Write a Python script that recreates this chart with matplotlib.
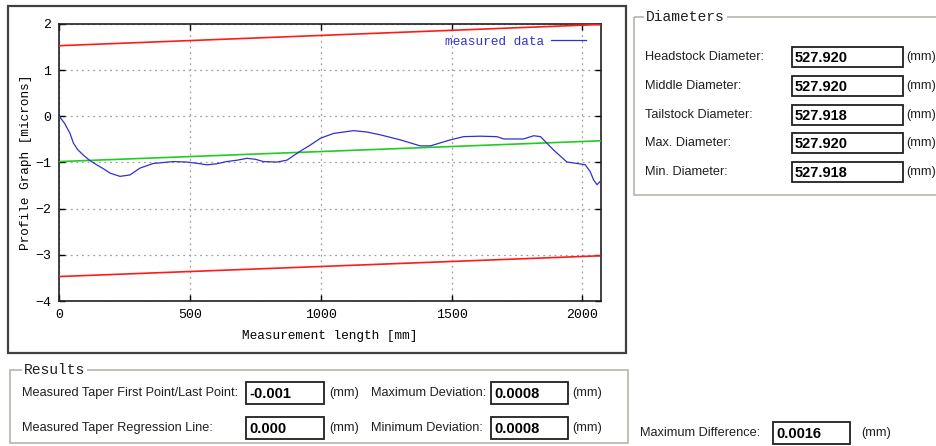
import matplotlib
matplotlib.use("Agg")
import matplotlib.pyplot as plt
from matplotlib.patches import Rectangle

# ---------------- data ----------------
x_meas = [0, 20, 41, 54, 70, 92, 115, 143, 170, 194, 232, 270, 309, 360, 436, 487,
          530, 564, 600, 640, 680, 717, 750, 780, 832, 870, 920, 960, 1000, 1049,
          1125, 1176, 1227, 1304, 1380, 1419, 1495, 1546, 1610, 1673, 1699, 1775,
          1814, 1840, 1890, 1941, 1979, 2011, 2030, 2043, 2056, 2068]
y_meas = [0, -0.15, -0.37, -0.58, -0.72, -0.84, -0.95, -1.05, -1.14, -1.23, -1.30,
          -1.27, -1.12, -1.02, -0.98, -0.99, -1.02, -1.05, -1.03, -0.98, -0.95,
          -0.91, -0.93, -0.98, -0.99, -0.95, -0.76, -0.62, -0.47, -0.37, -0.31,
          -0.34, -0.40, -0.51, -0.64, -0.64, -0.51, -0.44, -0.43, -0.44, -0.49,
          -0.49, -0.42, -0.44, -0.73, -0.99, -1.02, -1.05, -1.20, -1.38, -1.48, -1.41]
x_lines = [0, 2070]
upper_limit = [1.53, 1.99]
lower_limit = [-3.47, -3.02]
regression = [-0.98, -0.53]

x_ticks = [0, 500, 1000, 1500, 2000]
y_ticks = [-4, -3, -2, -1, 0, 1, 2]

diam_labels = ["Headstock Diameter:", "Middle Diameter:", "Tailstock Diameter:",
               "Max. Diameter:", "Min. Diameter:"]
diam_values = ["527.920", "527.920", "527.918", "527.920", "527.918"]

res_labels_left = ["Measured Taper First Point/Last Point:", "Measured Taper Regression Line:"]
res_values_left = ["-0.001", "0.000"]
res_labels_right = ["Maximum Deviation:", "Minimum Deviation:"]
res_values_right = ["0.0008", "0.0008"]
maxdiff_label = "Maximum Difference:"
maxdiff_value = "0.0016"

# ---------------- figure ----------------
W, H = 936, 446
fig = plt.figure(figsize=(W / 100, H / 100), dpi=100)
fig.patch.set_facecolor("white")

bg = fig.add_axes([0, 0, 1, 1])
bg.set_xlim(0, W)
bg.set_ylim(H, 0)
bg.axis("off")

UI = ["Liberation Sans", "DejaVu Sans"]
MONO = ["Liberation Mono", "DejaVu Sans Mono"]
GB = "#b8b4ac"


def groupbox(x0, y0, x1, y1, title, tx):
    bg.add_patch(Rectangle((x0, y0), x1 - x0, y1 - y0, fill=False, ec=GB, lw=1.2))
    bg.text(tx, y0, title, family=MONO, fontsize=10.5, va="center", ha="left",
            color="#202020",
            bbox=dict(boxstyle="square,pad=0.15", fc="white", ec="none"))


def textbox(x0, y0, x1, y1, text):
    bg.add_patch(Rectangle((x0, y0), x1 - x0, y1 - y0, fc="white", ec="#202020", lw=1.3))
    bg.text(x0 + 3, (y0 + y1) / 2 + 1, text, family=["Liberation Sans", "DejaVu Sans"],
            fontsize=10.5, fontweight="bold", va="center", ha="left", color="black")


def label(x, y, text):
    bg.text(x, y, text, family=UI, fontsize=9.2, va="center", ha="left", color="#202020")


# chart outer frame
bg.add_patch(Rectangle((8, 6), 618, 347, fill=False, ec="#404040", lw=1.6))

# Diameters group
groupbox(634, 17, 945, 195, "Diameters", 646)
for i, (lab, val) in enumerate(zip(diam_labels, diam_values)):
    yc = 57 + i * 28.8
    label(645, yc, lab)
    textbox(792, yc - 10, 903, yc + 10, val)
    label(906, yc, "(mm)")

# Results group
groupbox(10, 370, 628, 443, "Results", 24)
for i in range(2):
    yc = 393 + i * 35
    label(22, yc, res_labels_left[i])
    textbox(246, yc - 11, 324, yc + 11, res_values_left[i])
    label(329, yc, "(mm)")
    label(371, yc, res_labels_right[i])
    textbox(491, yc - 11, 568, yc + 11, res_values_right[i])
    label(572, yc, "(mm)")

# Maximum difference
label(640, 433, maxdiff_label)
textbox(773, 422, 850, 444, maxdiff_value)
label(861, 433, "(mm)")

# ---------------- chart ----------------
l, r, t, b = 59.3, 600.7, 24, 301
ax = fig.add_axes([l / W, 1 - b / H, (r - l) / W, (b - t) / H])
ax.set_facecolor("white")

ax.plot(x_lines, upper_limit, color="#ff1a1a", lw=1.2, zorder=3)
ax.plot(x_lines, lower_limit, color="#ff1a1a", lw=1.2, zorder=3)
ax.plot(x_lines, regression, color="#22cc22", lw=1.2, zorder=3)
ax.plot(x_meas, y_meas, color="#3030d0", lw=0.9, zorder=4, label="measured data")

ax.set_xlim(0, 2070)
ax.set_ylim(-4, 2)
ax.set_xticks(x_ticks)
ax.set_yticks(y_ticks)
ax.set_yticklabels([str(v).replace("-", "\u2212") for v in y_ticks])
ax.grid(True, color="#a0a0a0", ls=(0, (1.5, 3)), lw=0.9)
ax.tick_params(direction="in", length=4, width=1, top=True, right=True,
               labelsize=9.5, colors="black", pad=6)
for lab in ax.get_xticklabels() + ax.get_yticklabels():
    lab.set_family(MONO)
for sp in ax.spines.values():
    sp.set_linewidth(1.2)
    sp.set_color("#202020")

ax.set_xlabel("Measurement length [mm]", family=MONO, fontsize=9.2, labelpad=6)
ax.set_ylabel("Profile Graph [microns]", family=MONO, fontsize=9.2, labelpad=2)

leg = ax.legend(loc="upper right", bbox_to_anchor=(0.99, 0.99), frameon=False,
                markerfirst=False, handlelength=2.8, handletextpad=0.5,
                borderpad=0.2, prop={"family": MONO, "size": 9.2}, labelcolor="linecolor")

fig.savefig("out.png", dpi=100, facecolor="white")
